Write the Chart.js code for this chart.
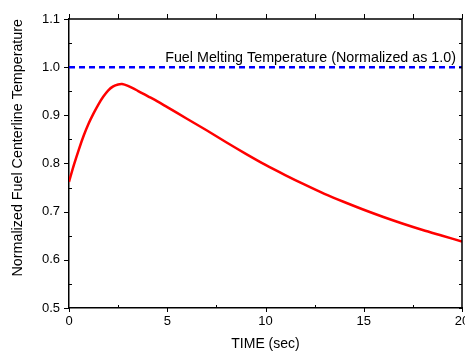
<!DOCTYPE html>
<html>
<head>
<meta charset="utf-8">
<script src="https://cdn.jsdelivr.net/npm/chart.js@4.4.1/dist/chart.umd.min.js"></script>
<style>
  body { margin: 0; background: #fff; }
  canvas { display: block; }
</style>
</head>
<body>
<canvas id="temp-chart" width="465" height="354"></canvas>
<script>
// data
const timeSec = [0, 0.25, 0.5, 0.75, 1, 1.25, 1.5, 1.75, 2, 2.25, 2.5, 2.7, 3, 3.5, 4, 4.5, 5, 6, 7, 8, 9, 10, 11, 12, 13, 14, 15, 16, 17, 18, 19, 20];
const tempNorm = [0.762, 0.797, 0.829, 0.858, 0.883, 0.904, 0.923, 0.939, 0.952, 0.960, 0.964, 0.965, 0.961, 0.951, 0.940, 0.929, 0.917, 0.893, 0.869, 0.844, 0.820, 0.797, 0.776, 0.756, 0.737, 0.720, 0.704, 0.689, 0.675, 0.662, 0.650, 0.638];
const meltTime = [0, 20];
const meltLevel = [1.0, 1.0];
const meltLabel = "Fuel Melting Temperature (Normalized as 1.0)";

// axis setup
const xRange = [0, 20];
const xStep = 5;
const yRange = [0.5, 1.1];
const yStep = 0.1;

const fontFamily = 'Arial, "Liberation Sans", sans-serif';

const curvePoints = timeSec.map((t, i) => ({ x: t, y: tempNorm[i] }));
const meltPoints = meltTime.map((t, i) => ({ x: t, y: meltLevel[i] }));

// frame, tick marks and the melting label
const framePlugin = {
    id: "frame",
    afterDraw(chart) {
        const ctx = chart.ctx;
        const area = chart.chartArea;
        const xs = chart.scales.x;
        const ys = chart.scales.y;
        ctx.save();
        ctx.strokeStyle = "#000";
        ctx.lineWidth = 1.5;

        // top and right sides of the box
        ctx.beginPath();
        ctx.moveTo(area.left, area.top);
        ctx.lineTo(area.right, area.top);
        ctx.lineTo(area.right, area.bottom);
        ctx.stroke();

        ctx.lineWidth = 1;
        ctx.beginPath();
        // x ticks: major outward, minor inward, top all outward
        for (let v = xRange[0]; v <= xRange[1] + 1e-9; v += xStep / 2) {
            const px = Math.round(xs.getPixelForValue(v)) + 0.5;
            const major = Math.abs(v / xStep - Math.round(v / xStep)) < 1e-6;
            if (major) {
                ctx.moveTo(px, area.bottom);
                ctx.lineTo(px, area.bottom + 4);
            } else {
                ctx.moveTo(px, area.bottom);
                ctx.lineTo(px, area.bottom - 3);
            }
            ctx.moveTo(px, area.top);
            ctx.lineTo(px, area.top - 5);
        }
        // y ticks: left major outward, minor inward, right all inward
        for (let v = yRange[0]; v <= yRange[1] + 1e-9; v += yStep / 2) {
            const py = Math.round(ys.getPixelForValue(v)) + 0.5;
            const major = Math.abs(v / yStep - Math.round(v / yStep)) < 1e-6;
            if (major) {
                ctx.moveTo(area.left, py);
                ctx.lineTo(area.left - 5, py);
            } else {
                ctx.moveTo(area.left, py);
                ctx.lineTo(area.left + 3, py);
            }
            ctx.moveTo(area.right, py);
            ctx.lineTo(area.right - 3, py);
        }
        ctx.stroke();

        // label above the dashed line
        ctx.fillStyle = "#000";
        ctx.font = "14.3px " + fontFamily;
        ctx.textAlign = "right";
        ctx.textBaseline = "alphabetic";
        ctx.fillText(meltLabel, xs.getPixelForValue(meltTime[1]) - 6, ys.getPixelForValue(meltLevel[1]) - 5);
        ctx.restore();
    }
};

new Chart(document.getElementById("temp-chart"), {
    type: "line",
    data: {
        datasets: [{
            data: meltPoints,
            borderColor: "#0000ff",
            borderWidth: 2.5,
            borderDash: [6, 4],
            pointRadius: 0,
            fill: false
        }, {
            data: curvePoints,
            borderColor: "#ff0000",
            borderWidth: 2.5,
            pointRadius: 0,
            tension: 0.3,
            fill: false
        }]
    },
    options: {
        responsive: false,
        animation: false,
        devicePixelRatio: 1,
        layout: { padding: { top: 19, right: 3, left: 0, bottom: 0 } },
        plugins: {
            legend: { display: false },
            tooltip: { enabled: false }
        },
        scales: {
            x: {
                type: "linear",
                min: xRange[0],
                max: xRange[1],
                grid: { display: false, drawTicks: false },
                border: { display: true, color: "#000", width: 1.5 },
                ticks: {
                    stepSize: xStep,
                    padding: 6,
                    color: "#000",
                    maxRotation: 0,
                    font: { family: fontFamily, size: 13 }
                },
                title: {
                    display: true,
                    text: "TIME (sec)",
                    color: "#000",
                    padding: { top: 0, bottom: 1 },
                    font: { family: fontFamily, size: 14 }
                },
                afterFit(s) {
                    s.height = 46;
                    s.paddingLeft = 0;
                    s.paddingRight = 0;
                }
            },
            y: {
                type: "linear",
                min: yRange[0],
                max: yRange[1],
                grid: { display: false, drawTicks: false },
                border: { display: true, color: "#000", width: 1.5 },
                ticks: {
                    stepSize: yStep,
                    padding: 9,
                    color: "#000",
                    font: { family: fontFamily, size: 13 },
                    callback: v => v.toFixed(1)
                },
                title: {
                    display: true,
                    text: "Normalized Fuel Centerline Temperature",
                    align: "end",
                    color: "#000",
                    padding: { top: 9, bottom: 0 },
                    font: { family: fontFamily, size: 14.3 }
                },
                afterFit(s) {
                    s.width = 69;
                    s.paddingTop = 0;
                    s.paddingBottom = 0;
                }
            }
        }
    },
    plugins: [framePlugin]
});
</script>
</body>
</html>
